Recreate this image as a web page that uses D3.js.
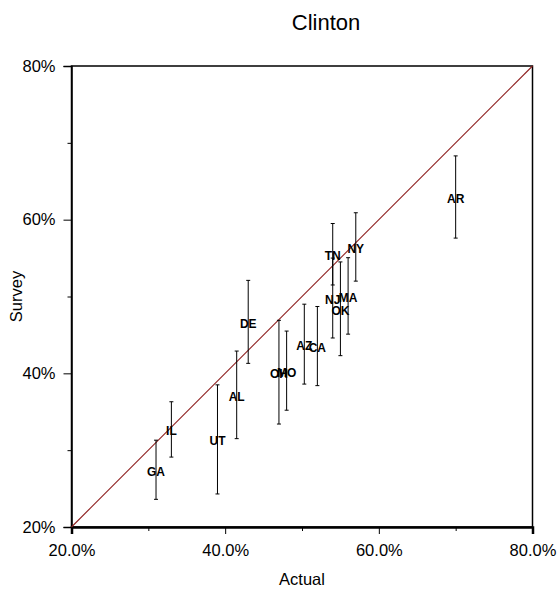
<!DOCTYPE html>
<html>
<head>
<meta charset="utf-8">
<script src="https://cdn.jsdelivr.net/npm/d3@7"></script>
<style>
  body { margin: 0; background: #fff; }
  svg { display: block; font-family: "Liberation Sans", Arial, sans-serif; }
</style>
</head>
<body>
<svg id="chart" width="557" height="592"></svg>
<script>
// Data
const states  = ["GA", "IL", "UT", "AL", "DE", "OH", "MO", "AZ", "CA", "TN", "NJ", "OK", "MA", "NY", "AR"];
const actual  = [31.0, 33.0, 39.0, 41.5, 43.0, 47.0, 48.0, 50.3, 52.0, 54.0, 54.0, 55.0, 56.0, 57.0, 70.0];
const survey  = [27.45, 32.7, 31.4, 37.2, 46.7, 40.15, 40.35, 43.8, 43.55, 55.5, 49.8, 48.4, 50.1, 56.45, 62.95];
const lower   = [23.6, 29.1, 24.3, 31.5, 41.3, 33.4, 35.2, 38.6, 38.4, 51.5, 44.6, 42.3, 45.1, 52.0, 57.6];
const upper   = [31.3, 36.3, 38.5, 42.9, 52.1, 46.9, 45.5, 49.0, 48.7, 59.5, 55.0, 54.5, 55.05, 60.9, 68.3];
const xMajorTicks = [20, 40, 60, 80];
const xMinorTicks = [30, 50, 70];
const yMajorTicks = [20, 40, 60, 80];
const yMinorTicks = [30, 50, 70];
const title = "Clinton";
const xTitle = "Actual";
const yTitle = "Survey";

const svg = d3.select("#chart");
const x = d3.scaleLinear().domain([20, 80]).range([71.5, 532.5]);
const y = d3.scaleLinear().domain([20, 80]).range([527, 66]);

// Frame
svg.append("rect")
  .attr("x", x(20)).attr("y", y(80))
  .attr("width", x(80) - x(20)).attr("height", y(20) - y(80))
  .attr("fill", "none").attr("stroke", "#000").attr("stroke-width", 1.5);

// Axes
const xAxis = svg.append("g").attr("transform", `translate(0,${y(20)})`)
  .call(d3.axisBottom(x).tickValues(xMajorTicks).tickSize(7).tickPadding(10)
    .tickFormat(d => d3.format(".1f")(d) + "%"));
xAxis.select(".domain").attr("stroke-width", 2.5);
xAxis.selectAll("text").attr("font-size", 16.5).attr("fill", "#000")
  .attr("font-family", "Liberation Sans, Arial, sans-serif");
svg.append("g").attr("transform", `translate(0,${y(20)})`)
  .call(d3.axisBottom(x).tickValues(xMinorTicks).tickSize(4).tickFormat(""))
  .select(".domain").remove();

const yAxis = svg.append("g").attr("transform", `translate(${x(20)},0)`)
  .call(d3.axisLeft(y).tickValues(yMajorTicks).tickSize(8).tickPadding(8)
    .tickFormat(d => d + "%"));
yAxis.select(".domain").attr("stroke-width", 1.5);
yAxis.selectAll("text").attr("font-size", 16.5).attr("fill", "#000")
  .attr("font-family", "Liberation Sans, Arial, sans-serif");
svg.append("g").attr("transform", `translate(${x(20)},0)`)
  .call(d3.axisLeft(y).tickValues(yMinorTicks).tickSize(4).tickFormat(""))
  .select(".domain").remove();

// Diagonal reference line
svg.append("line")
  .attr("x1", x(20)).attr("y1", y(20)).attr("x2", x(80)).attr("y2", y(80))
  .attr("stroke", "#8e1f1f").attr("stroke-width", 1.1);

// Error bars
const idx = d3.range(states.length);
const bars = svg.append("g").attr("stroke", "#000").attr("stroke-width", 1);
idx.forEach(i => {
  const cx = x(actual[i]);
  bars.append("line").attr("x1", cx).attr("x2", cx).attr("y1", y(lower[i])).attr("y2", y(upper[i]));
  bars.append("line").attr("x1", cx - 2).attr("x2", cx + 2).attr("y1", y(lower[i])).attr("y2", y(lower[i]));
  bars.append("line").attr("x1", cx - 2).attr("x2", cx + 2).attr("y1", y(upper[i])).attr("y2", y(upper[i]));
});

// Labels
svg.append("g").selectAll("text").data(idx).join("text")
  .attr("x", i => x(actual[i]))
  .attr("y", i => y(survey[i]) + 2)
  .attr("text-anchor", "middle")
  .attr("dominant-baseline", "central")
  .attr("font-size", 12).attr("font-weight", "bold").attr("fill", "#000")
  .text(i => states[i]);

// Titles
svg.append("text").attr("x", 326).attr("y", 30).attr("text-anchor", "middle")
  .attr("font-size", 22).attr("fill", "#000").text(title);
svg.append("text").attr("x", (x(20) + x(80)) / 2).attr("y", 585).attr("text-anchor", "middle")
  .attr("font-size", 16.5).attr("fill", "#000").text(xTitle);
svg.append("text").attr("transform", `translate(22,${(y(20) + y(80)) / 2}) rotate(-90)`)
  .attr("text-anchor", "middle").attr("font-size", 16.5).attr("fill", "#000").text(yTitle);
</script>
</body>
</html>
